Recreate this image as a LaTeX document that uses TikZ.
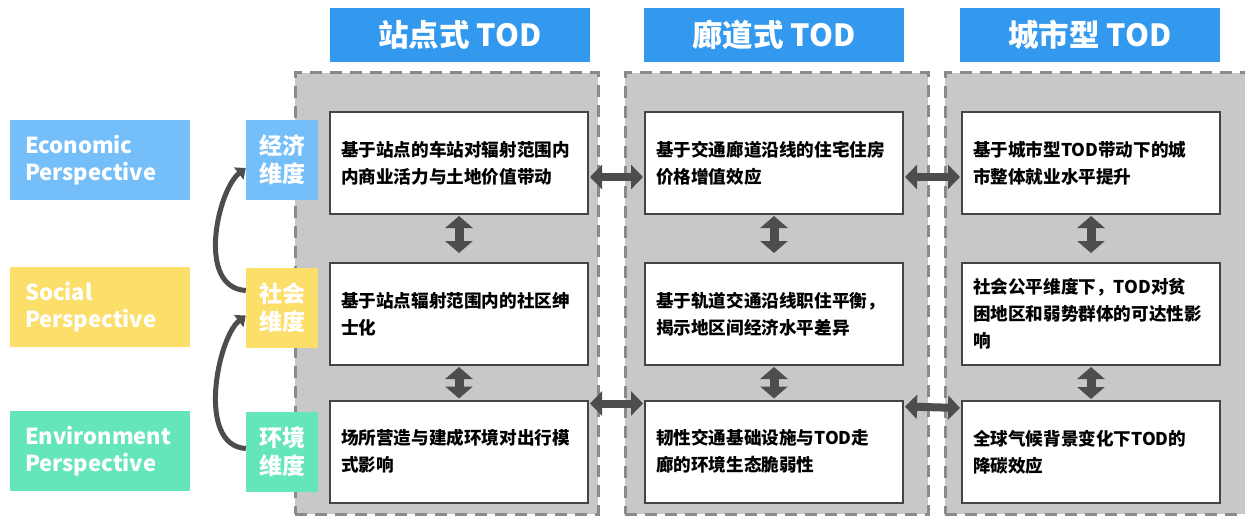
\documentclass[tikz,border=0pt]{standalone}
\usepackage{fontspec}
\setmainfont{Noto Sans CJK SC}
\usetikzlibrary{arrows.meta}
\definecolor{hdrblue}{HTML}{3399EE}
\definecolor{ecoc}{HTML}{74BEFA}
\definecolor{socc}{HTML}{FCDE6A}
\definecolor{envc}{HTML}{65E5BC}
\definecolor{panelc}{HTML}{C8C8C8}
\definecolor{dashc}{HTML}{8A8A8A}
\definecolor{arrc}{HTML}{4D4D4D}
\definecolor{boxline}{HTML}{444444}
\begin{document}
\begin{tikzpicture}[x=1pt,y=-1pt,
  hdr/.style={fill=hdrblue,text=white,minimum width=260pt,minimum height=54pt,inner sep=0pt,font=\fontsize{30.5}{34}\selectfont\bfseries},
  panel/.style={fill=panelc,draw=dashc,line width=3pt,dash pattern=on 12pt off 8pt,minimum width=303pt,minimum height=441pt,inner sep=0pt},
  tbox/.style={fill=white,draw=boxline,line width=2pt,minimum width=258pt,minimum height=102pt,text width=236pt,align=left,inner sep=0pt,font=\fontsize{17.6}{27}\selectfont\bfseries},
  persp/.style={minimum width=180pt,minimum height=80pt,text width=150pt,align=left,inner sep=0pt,text=white,font=\fontsize{22}{26.5}\selectfont\bfseries},
  dim/.style={minimum width=72pt,minimum height=80pt,align=center,inner sep=0pt,text=white,font=\fontsize{23}{28}\selectfont\bfseries},
  varrow/.style={arrc,line width=9pt,{Triangle[width=27pt,length=12pt]}-{Triangle[width=27pt,length=12pt]}},
  harrow/.style={arrc,line width=8pt,{Triangle[width=24pt,length=12pt]}-{Triangle[width=24pt,length=12pt]}},
  carrow/.style={arrc,line width=5pt,-{Triangle[width=15pt,length=9pt]}}
]
\useasboundingbox (0,0) rectangle (1245,516);

% headers
\node[hdr] (h1) at (460,35) {站点式 TOD};
\node[hdr] (h2) at (774,35) {廊道式 TOD};
\node[hdr] (h3) at (1090,35) {城市型 TOD};

% panels
\node[panel] (p1) at (446.5,293.5) {};
\node[panel] (p2) at (776.5,293.5) {};
\node[panel] (p3) at (1096.5,293.5) {};

% boxes
\node[tbox] (b11) at (459,163) {基于站点的车站对辐射范围内\\内商业活力与土地价值带动};
\node[tbox] (b12) at (774,163) {基于交通廊道沿线的住宅住房\\价格增值效应};
\node[tbox] (b13) at (1091,163) {基于城市型TOD带动下的城\\市整体就业水平提升};
\node[tbox] (b21) at (459,314) {基于站点辐射范围内的社区绅\\士化};
\node[tbox] (b22) at (774,314) {基于轨道交通沿线职住平衡，\\揭示地区间经济水平差异};
\node[tbox] (b23) at (1091,314) {社会公平维度下，TOD对贫\\困地区和弱势群体的可达性影\\响};
\node[tbox] (b31) at (459,451.5) {场所营造与建成环境对出行模\\式影响};
\node[tbox] (b32) at (774,451.5) {韧性交通基础设施与TOD走\\廊的环境生态脆弱性};
\node[tbox] (b33) at (1091,452) {全球气候背景变化下TOD的\\降碳效应};

% perspectives
\node[persp,fill=ecoc] (pe) at (100,160) {Economic\\Perspective};
\node[persp,fill=socc] (ps) at (100,307) {Social\\Perspective};
\node[persp,fill=envc] (pv) at (100,451) {Environment\\Perspective};

% dimension boxes
\node[dim,fill=ecoc] (de) at (282,160) {经济\\维度};
\node[dim,fill=socc] (ds) at (282,307.5) {社会\\维度};
\node[dim,fill=envc] (dv) at (282,451.5) {环境\\维度};

% vertical arrows
\foreach \c in {1,2,3}{
  \draw[varrow,shorten <=1pt,shorten >=9pt] (b1\c.south) -- (b2\c.north);
  \draw[varrow,shorten <=1pt,shorten >=1pt] (b2\c.south) -- (b3\c.north);
}

% horizontal arrows
\draw[harrow,shorten <=1pt,shorten >=1pt] ([yshift=-14pt]b11.east) -- ([yshift=-14pt]b12.west);
\draw[harrow,shorten <=1pt,shorten >=1pt] ([yshift=-14pt]b12.east) -- ([yshift=-14pt]b13.west);
\draw[harrow,shorten <=1pt,shorten >=1pt] ([yshift=-4pt]b31.north east) -- ([yshift=-4pt]b32.north west);
\draw[harrow,shorten <=1pt,shorten >=1pt] ([yshift=-7pt]b32.north east) -- ([yshift=-8pt]b33.north west);

% curved arrows
\draw[carrow] ([yshift=17pt]ds.west) .. controls +(-50,-3) and +(-28,22) .. ([yshift=-8pt]de.west);
\draw[carrow] ([yshift=3pt]dv.west) .. controls +(-50,-3) and +(-28,22) .. ([yshift=-8pt]ds.west);
\end{tikzpicture}
\end{document}
